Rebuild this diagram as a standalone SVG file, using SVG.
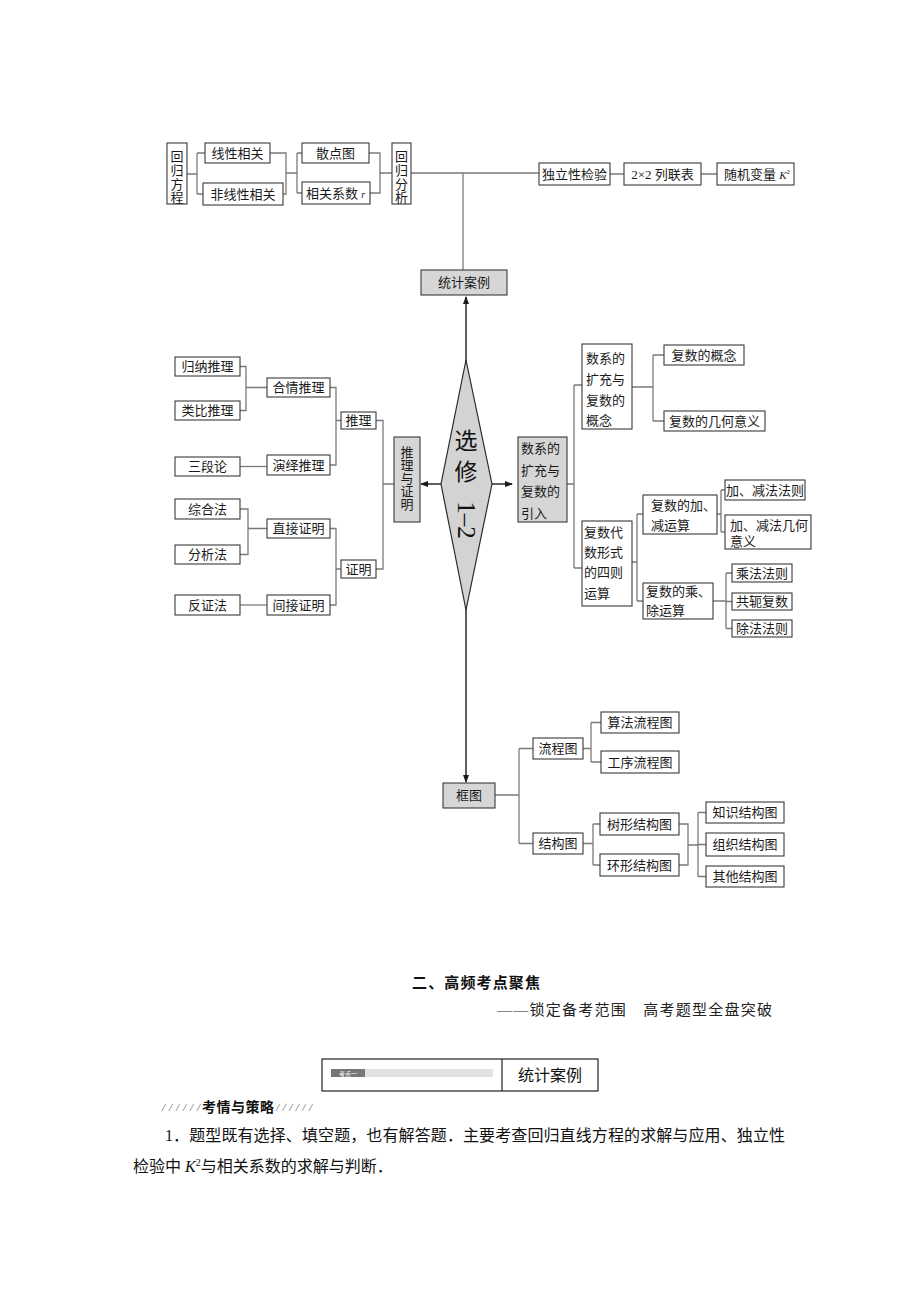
<svg xmlns="http://www.w3.org/2000/svg" width="920" height="1302" viewBox="0 0 920 1302">
<style>
.box{fill:#fff;stroke:#3a3a3a;stroke-width:1.1}
.gbox{fill:#d6d6d6;stroke:#3a3a3a;stroke-width:1.1}
.t{font-family:"Liberation Serif","Noto Sans CJK SC",serif;font-size:13px;fill:#1a1a1a}
.c{text-anchor:middle}
.ln{stroke:#7a7a7a;stroke-width:1.3;fill:none}
.main{stroke:#2a2a2a;stroke-width:1.5;fill:none}
</style>
<defs>
<marker id="arr" viewBox="0 0 8 6" refX="7" refY="3" markerWidth="8" markerHeight="6" markerUnits="userSpaceOnUse" orient="auto">
<path d="M0,0 L8,3 L0,6 z" fill="#1a1a1a"/>
</marker>
</defs>
<rect width="920" height="1302" fill="#fff"/>

<g id="connectors">
<path class="ln" d="M187,174 H197 M197,153 V194 M197,153 H205 M197,194 H203"/>
<path class="ln" d="M270,153 H286 V194 H283 M286,173 H297 M297,153 V193 M297,153 H302 M297,193 H302"/>
<path class="ln" d="M369,153 H380 V193 H370 M380,173 H392"/>
<path class="ln" d="M411,173 H539 M463,173 V270"/>
<path class="ln" d="M610,174 H624 M701,174 H717"/>
<path class="ln" d="M240,366.5 H246 V410.5 H240 M246,387.5 H267"/>
<path class="ln" d="M330,387.5 H336 V465 H330 M336,420.5 H341"/>
<path class="ln" d="M240,466.5 H267"/>
<path class="ln" d="M376,420.5 H383 V569 H375 M383,484 H394"/>
<path class="ln" d="M240,509 H248 V554.5 H240 M248,528.5 H267"/>
<path class="ln" d="M240,605 H267"/>
<path class="ln" d="M330,528.5 H336 V605 H330 M336,569 H341"/>
<path class="ln" d="M567,484 H574 M574,385 V568 M574,385 H582 M574,568 H582"/>
<path class="ln" d="M632,387 H653 M653,355 V421 M653,355 H664 M653,421 H664"/>
<path class="ln" d="M632,562 H637 M637,514 V601 M637,514 H643 M637,601 H643"/>
<path class="ln" d="M717,514 H721 M721,490 V532 M721,490 H725 M721,532 H725"/>
<path class="ln" d="M713,601 H726 M726,573 V628.5 M726,573 H732 M726,601.5 H732 M726,628.5 H732"/>
<path class="ln" d="M495,795 H519 M519,748.5 V843.5 M519,748.5 H533 M519,843.5 H533"/>
<path class="ln" d="M583,748.5 H591 M591,722.5 V762 M591,722.5 H601 M591,762 H601"/>
<path class="ln" d="M583,843.5 H593 M593,824 V865 M593,824 H600 M593,865 H600"/>
<path class="ln" d="M679,824 H688 V865 H679 M688,845 H698 M698,812.5 V876.5 M698,812.5 H706 M698,844.5 H706 M698,876.5 H706"/>
<path class="main" d="M466,362 V297" marker-end="url(#arr)"/>
<path class="main" d="M466,608 V782" marker-end="url(#arr)"/>
<path class="main" d="M442,484 H421" marker-end="url(#arr)"/>
<path class="main" d="M491,484 H512" marker-end="url(#arr)"/>
</g>

<g id="n_hgfc"><rect class="box" x="167" y="143" width="20" height="61"/>
<text class="t c" x="177"><tspan x="177" y="161">回</tspan><tspan x="177" y="175">归</tspan><tspan x="177" y="188.5">方</tspan><tspan x="177" y="201.5">程</tspan></text></g>
<g id="n_xxxg"><rect class="box" x="205" y="143" width="65" height="20"/><text class="t c" x="237.5" y="158">线性相关</text></g>
<g id="n_fxxxg"><rect class="box" x="203" y="183" width="80" height="22"/><text class="t c" x="243" y="199">非线性相关</text></g>
<g id="n_sdt"><rect class="box" x="302" y="143" width="67" height="20"/><text class="t c" x="335.5" y="158">散点图</text></g>
<g id="n_xgxs"><rect class="box" x="302" y="182" width="68" height="22"/><text class="t" x="306" y="198">相关系数 <tspan font-style="italic" font-size="10">r</tspan></text></g>
<g id="n_hgfx"><rect class="box" x="392" y="143" width="19" height="61"/>
<text class="t c" x="401.5"><tspan x="401.5" y="161">回</tspan><tspan x="401.5" y="175">归</tspan><tspan x="401.5" y="188.5">分</tspan><tspan x="401.5" y="201.5">析</tspan></text></g>
<g id="n_dlxjy"><rect class="box" x="539" y="163" width="71" height="22"/><text class="t c" x="574.5" y="179">独立性检验</text></g>
<g id="n_lb"><rect class="box" x="624" y="163" width="77" height="22"/><text class="t c" x="662.5" y="179">2×2 列联表</text></g>
<g id="n_sjbl"><rect class="box" x="717" y="163" width="77" height="22"/><text class="t" x="724" y="179">随机变量 <tspan font-style="italic" font-size="11">K</tspan><tspan font-size="7" dy="-5">2</tspan></text></g>
<g id="n_tjal"><rect class="gbox" x="421" y="270" width="86" height="25"/><text class="t c" x="464" y="287">统计案例</text></g>

<g id="n_gnl"><rect class="box" x="175" y="357" width="65" height="19"/><text class="t c" x="207.5" y="371">归纳推理</text></g>
<g id="n_lbtl"><rect class="box" x="175" y="401" width="65" height="19"/><text class="t c" x="207.5" y="415">类比推理</text></g>
<g id="n_hqtl"><rect class="box" x="267" y="378" width="63" height="19"/><text class="t c" x="298.5" y="392">合情推理</text></g>
<g id="n_sdl"><rect class="box" x="175" y="457" width="65" height="19"/><text class="t c" x="207.5" y="471">三段论</text></g>
<g id="n_yytl"><rect class="box" x="267" y="455" width="63" height="20"/><text class="t c" x="298.5" y="470">演绎推理</text></g>
<g id="n_tl"><rect class="box" x="341" y="412" width="35" height="17"/><text class="t c" x="358.5" y="425">推理</text></g>
<g id="n_tlzm"><rect class="gbox" x="394" y="437" width="26" height="85"/>
<text class="t c" x="407"><tspan x="407" y="457">推</tspan><tspan x="407" y="470">理</tspan><tspan x="407" y="483">与</tspan><tspan x="407" y="496">证</tspan><tspan x="407" y="509">明</tspan></text></g>
<g id="n_zhf"><rect class="box" x="175" y="499" width="65" height="20"/><text class="t c" x="207.5" y="514">综合法</text></g>
<g id="n_fxf"><rect class="box" x="175" y="545" width="65" height="19"/><text class="t c" x="207.5" y="559">分析法</text></g>
<g id="n_zjzm"><rect class="box" x="267" y="519" width="63" height="19"/><text class="t c" x="298.5" y="533">直接证明</text></g>
<g id="n_fzf"><rect class="box" x="175" y="595" width="65" height="20"/><text class="t c" x="207.5" y="610">反证法</text></g>
<g id="n_jjzm"><rect class="box" x="267" y="595" width="63" height="20"/><text class="t c" x="298.5" y="610">间接证明</text></g>
<g id="n_zm"><rect class="box" x="341" y="560" width="35" height="18"/><text class="t c" x="358.5" y="574">证明</text></g>

<g id="n_center"><polygon points="466,360 492,484 466,610 441,484" fill="#d3d3d3" stroke="#2a2a2a" stroke-width="1.2"/>
<text x="466" y="449" text-anchor="middle" font-family="Noto Sans CJK SC, sans-serif" font-size="23" fill="#111">选</text>
<text x="466" y="480" text-anchor="middle" font-family="Noto Sans CJK SC, sans-serif" font-size="23" fill="#111">修</text>
<text x="0" y="0" transform="translate(466,520) rotate(90)" text-anchor="middle" dominant-baseline="central" font-family="Liberation Serif, serif" font-size="25" fill="#111">1–2</text></g>

<g id="n_sxyr"><rect class="gbox" x="518" y="437" width="49" height="85"/>
<text class="t" x="521"><tspan x="521" y="453">数系的</tspan><tspan x="521" y="474.5">扩充与</tspan><tspan x="521" y="496">复数的</tspan><tspan x="521" y="517.5">引入</tspan></text></g>
<g id="n_sxgn"><rect class="box" x="582" y="344" width="50" height="85"/>
<text class="t" x="586"><tspan x="586" y="363">数系的</tspan><tspan x="586" y="384">扩充与</tspan><tspan x="586" y="405">复数的</tspan><tspan x="586" y="425">概念</tspan></text></g>
<g id="n_fsys"><rect class="box" x="582" y="521" width="50" height="85"/>
<text class="t" x="584"><tspan x="584" y="537">复数代</tspan><tspan x="584" y="557">数形式</tspan><tspan x="584" y="577">的四则</tspan><tspan x="584" y="598">运算</tspan></text></g>
<g id="n_fsgn"><rect class="box" x="664" y="345" width="80" height="20"/><text class="t c" x="704" y="360">复数的概念</text></g>
<g id="n_fsjh"><rect class="box" x="664" y="411" width="101" height="20"/><text class="t c" x="714.5" y="426">复数的几何意义</text></g>
<g id="n_jjys"><rect class="box" x="643" y="495" width="74" height="39"/>
<text class="t" x="651"><tspan x="651" y="510">复数的加、</tspan><tspan x="651" y="530">减运算</tspan></text></g>
<g id="n_ccys"><rect class="box" x="643" y="583" width="70" height="36"/>
<text class="t" x="646"><tspan x="646" y="596">复数的乘、</tspan><tspan x="646" y="615">除运算</tspan></text></g>
<g id="n_jjff"><rect class="box" x="725" y="480" width="80" height="20"/><text class="t c" x="765" y="495">加、减法法则</text></g>
<g id="n_jjjh"><rect class="box" x="725" y="515" width="86" height="34"/>
<text class="t" x="730"><tspan x="730" y="530">加、减法几何</tspan><tspan x="730" y="546">意义</tspan></text></g>
<g id="n_cf"><rect class="box" x="732" y="564" width="60" height="18"/><text class="t c" x="762" y="578">乘法法则</text></g>
<g id="n_ge"><rect class="box" x="732" y="593" width="60" height="17"/><text class="t c" x="762" y="606">共轭复数</text></g>
<g id="n_cf2"><rect class="box" x="732" y="620" width="60" height="17"/><text class="t c" x="762" y="633">除法法则</text></g>

<g id="n_kt"><rect class="gbox" x="443" y="783" width="52" height="25"/><text class="t c" x="469" y="800">框图</text></g>
<g id="n_lct"><rect class="box" x="533" y="738" width="50" height="21"/><text class="t c" x="558" y="753">流程图</text></g>
<g id="n_jgt"><rect class="box" x="533" y="833" width="50" height="21"/><text class="t c" x="558" y="848">结构图</text></g>
<g id="n_sf"><rect class="box" x="601" y="712" width="78" height="21"/><text class="t c" x="640" y="727">算法流程图</text></g>
<g id="n_gx"><rect class="box" x="601" y="751" width="78" height="22"/><text class="t c" x="640" y="767">工序流程图</text></g>
<g id="n_sx"><rect class="box" x="600" y="813" width="79" height="22"/><text class="t c" x="639.5" y="829">树形结构图</text></g>
<g id="n_hx"><rect class="box" x="600" y="854" width="79" height="22"/><text class="t c" x="639.5" y="870">环形结构图</text></g>
<g id="n_zs"><rect class="box" x="706" y="802" width="78" height="21"/><text class="t c" x="745" y="817">知识结构图</text></g>
<g id="n_zz"><rect class="box" x="706" y="833" width="78" height="23"/><text class="t c" x="745" y="849">组织结构图</text></g>
<g id="n_qt"><rect class="box" x="706" y="866" width="78" height="21"/><text class="t c" x="745" y="881">其他结构图</text></g>

<g id="page_text">
<text x="412" y="988" font-family="Noto Sans CJK SC, sans-serif" font-weight="bold" font-size="15" textLength="128" fill="#111">二、高频考点聚焦</text>
<text x="497" y="1015" font-family="Liberation Serif, Noto Sans CJK SC, serif" font-size="15" textLength="275" fill="#222">——锁定备考范围　高考题型全盘突破</text>
<rect x="322" y="1059" width="276" height="32" fill="#fff" stroke="#222" stroke-width="1.2"/>
<line x1="502" y1="1059" x2="502" y2="1091" stroke="#222" stroke-width="1.2"/>
<rect x="331" y="1069" width="34" height="8" fill="#777"/>
<text x="348" y="1075.5" text-anchor="middle" font-family="Noto Sans CJK SC, sans-serif" font-size="6" fill="#fff">考点一</text>
<rect x="365" y="1069" width="128" height="8" fill="#e2e2e2"/>
<text x="550" y="1081" text-anchor="middle" font-family="Noto Sans CJK SC, sans-serif" font-size="16" fill="#111">统计案例</text>
<text x="162" y="1111" font-family="Liberation Serif, serif" font-style="italic" font-size="11" fill="#555" textLength="38">//////</text>
<text x="202" y="1112" font-family="Noto Sans CJK SC, sans-serif" font-weight="bold" font-size="14" fill="#111" textLength="72">考情与策略</text>
<text x="276" y="1111" font-family="Liberation Serif, serif" font-style="italic" font-size="11" fill="#555" textLength="36">//////</text>
<text x="165" y="1141" font-family="Liberation Serif, Noto Sans CJK SC, serif" font-size="16" fill="#111" textLength="620">1．题型既有选择、填空题，也有解答题．主要考查回归直线方程的求解与应用、独立性</text>
<text x="133" y="1172" font-family="Liberation Serif, Noto Sans CJK SC, serif" font-size="16" fill="#111">检验中 <tspan font-style="italic">K</tspan><tspan font-size="10" dy="-6">2</tspan><tspan dy="6">与相关系数的求解与判断．</tspan></text>
</g>
</svg>
